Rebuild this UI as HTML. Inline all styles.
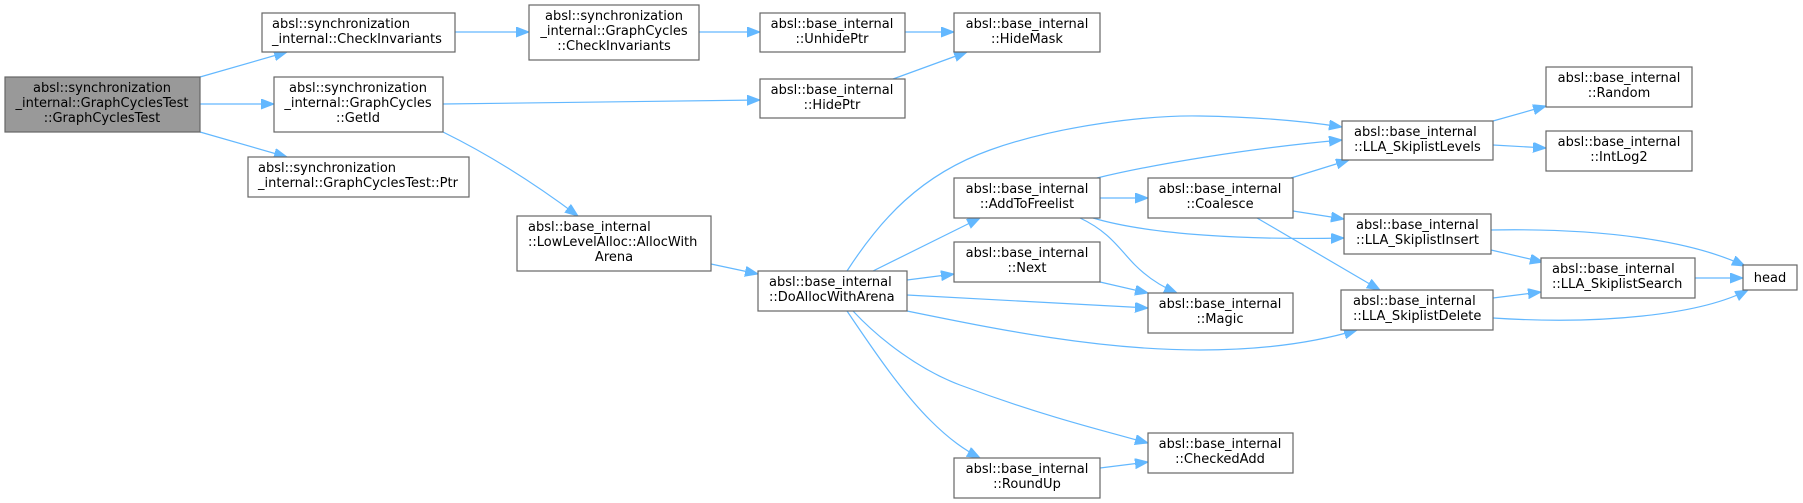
<!DOCTYPE html>
<html><head><meta charset="utf-8"><style>
html,body{margin:0;padding:0;background:#fff;}
svg{display:block;}
text{font-family:"DejaVu Sans","Liberation Sans",sans-serif;font-size:13px;fill:#000;text-anchor:middle;}
rect{stroke:#666;stroke-width:1.2;fill:#fff;}
path{stroke:#63b8ff;stroke-width:1.2;fill:none;}
</style></head><body>
<svg width="1803" height="503" viewBox="0 0 1803 503" xmlns="http://www.w3.org/2000/svg">
<defs>
<marker id="a" markerUnits="userSpaceOnUse" markerWidth="14" markerHeight="11" refX="13" refY="5" orient="auto">
<path d="M0,0 L13,5 L0,10 Z" style="fill:#63b8ff;stroke:#63b8ff;stroke-width:1"/>
</marker>
</defs>
<g marker-end="url(#a)">
<path d="M200,77 L287,52"/>
<path d="M200,104 L274,104"/>
<path d="M200,132 L287,157"/>
<path d="M455,32 L529,32"/>
<path d="M699,32 L760,32"/>
<path d="M905,32 L954,32"/>
<path d="M893,79 L967,52"/>
<path d="M443,104 L760,100"/>
<path d="M443,132 C500,160 550,195 578,216"/>
<path d="M711,264 L758,274"/>
<path d="M873,271 L980,218"/>
<path d="M847,271 C880,220 920,175 990,150 C1060,125 1150,115 1200,116 C1260,117 1310,122 1342,127"/>
<path d="M907,280 L954,274"/>
<path d="M907,295 L1148,308"/>
<path d="M907,311 C1000,330 1100,350 1200,350 C1280,350 1330,338 1357,330"/>
<path d="M853,311 C880,340 920,370 960,385 C1040,415 1100,430 1148,443"/>
<path d="M847,311 C870,345 900,390 930,420 C950,440 965,450 980,458"/>
<path d="M1100,468 L1148,462"/>
<path d="M1100,282 L1148,293"/>
<path d="M1100,198 L1148,198"/>
<path d="M1097,178 C1150,165 1250,148 1342,140"/>
<path d="M1093,218 C1150,235 1250,240 1344,238"/>
<path d="M1080,218 C1110,232 1120,250 1135,265 C1150,280 1165,288 1177,293"/>
<path d="M1291,178 L1349,160"/>
<path d="M1293,211 L1344,219"/>
<path d="M1257,218 L1380,290"/>
<path d="M1493,121 L1546,106"/>
<path d="M1493,145 L1546,148"/>
<path d="M1491,230 C1600,228 1690,240 1745,266"/>
<path d="M1491,250 L1543,262"/>
<path d="M1695,278 L1743,278"/>
<path d="M1493,298 L1541,292"/>
<path d="M1493,318 C1600,325 1700,315 1748,290"/>
</g>

<rect x="5" y="77" width="195" height="55" style="fill:#999"/>
<text x="102" y="92">absl::synchronization</text><text x="102" y="107">_internal::GraphCyclesTest</text><text x="102" y="122">::GraphCyclesTest</text>

<rect x="262" y="13" width="193" height="39"/>
<text x="272" y="28" style="text-anchor:start">absl::synchronization</text><text x="272" y="43" style="text-anchor:start">_internal::CheckInvariants</text>

<rect x="274" y="77" width="169" height="55"/>
<text x="358" y="92">absl::synchronization</text><text x="358" y="107">_internal::GraphCycles</text><text x="358" y="122">::GetId</text>

<rect x="248" y="157" width="221" height="40"/>
<text x="258" y="172" style="text-anchor:start">absl::synchronization</text><text x="258" y="187" style="text-anchor:start">_internal::GraphCyclesTest::Ptr</text>

<rect x="529" y="5" width="170" height="55"/>
<text x="614" y="20">absl::synchronization</text><text x="614" y="35">_internal::GraphCycles</text><text x="614" y="50">::CheckInvariants</text>

<rect x="760" y="13" width="145" height="39"/>
<text x="832" y="28">absl::base_internal</text><text x="832" y="43">::UnhidePtr</text>

<rect x="954" y="13" width="146" height="39"/>
<text x="1027" y="28">absl::base_internal</text><text x="1027" y="43">::HideMask</text>

<rect x="760" y="79" width="145" height="39"/>
<text x="832" y="94">absl::base_internal</text><text x="832" y="109">::HidePtr</text>

<rect x="517" y="216" width="194" height="55"/>
<text x="528" y="231" style="text-anchor:start">absl::base_internal</text><text x="528" y="246" style="text-anchor:start">::LowLevelAlloc::AllocWith</text><text x="614" y="261">Arena</text>

<rect x="758" y="271" width="149" height="40"/>
<text x="769" y="286" style="text-anchor:start">absl::base_internal</text><text x="769" y="301" style="text-anchor:start">::DoAllocWithArena</text>

<rect x="954" y="178" width="146" height="40"/>
<text x="1027" y="193">absl::base_internal</text><text x="1027" y="208">::AddToFreelist</text>

<rect x="954" y="242" width="146" height="40"/>
<text x="1027" y="257">absl::base_internal</text><text x="1027" y="272">::Next</text>

<rect x="954" y="458" width="146" height="40"/>
<text x="1027" y="473">absl::base_internal</text><text x="1027" y="488">::RoundUp</text>

<rect x="1148" y="178" width="145" height="40"/>
<text x="1220" y="193">absl::base_internal</text><text x="1220" y="208">::Coalesce</text>

<rect x="1148" y="293" width="145" height="40"/>
<text x="1220" y="308">absl::base_internal</text><text x="1220" y="323">::Magic</text>

<rect x="1148" y="433" width="145" height="40"/>
<text x="1220" y="448">absl::base_internal</text><text x="1220" y="463">::CheckedAdd</text>

<rect x="1342" y="121" width="151" height="39"/>
<text x="1354" y="136" style="text-anchor:start">absl::base_internal</text><text x="1354" y="151" style="text-anchor:start">::LLA_SkiplistLevels</text>

<rect x="1344" y="214" width="147" height="40"/>
<text x="1356" y="229" style="text-anchor:start">absl::base_internal</text><text x="1356" y="244" style="text-anchor:start">::LLA_SkiplistInsert</text>

<rect x="1341" y="290" width="152" height="40"/>
<text x="1353" y="305" style="text-anchor:start">absl::base_internal</text><text x="1353" y="320" style="text-anchor:start">::LLA_SkiplistDelete</text>

<rect x="1546" y="67" width="146" height="40"/>
<text x="1619" y="82">absl::base_internal</text><text x="1619" y="97">::Random</text>

<rect x="1546" y="131" width="146" height="40"/>
<text x="1619" y="146">absl::base_internal</text><text x="1619" y="161">::IntLog2</text>

<rect x="1541" y="258" width="154" height="40"/>
<text x="1552" y="273" style="text-anchor:start">absl::base_internal</text><text x="1552" y="288" style="text-anchor:start">::LLA_SkiplistSearch</text>

<rect x="1743" y="265" width="54" height="25"/>
<text x="1770" y="282">head</text>
</svg>
</body></html>
